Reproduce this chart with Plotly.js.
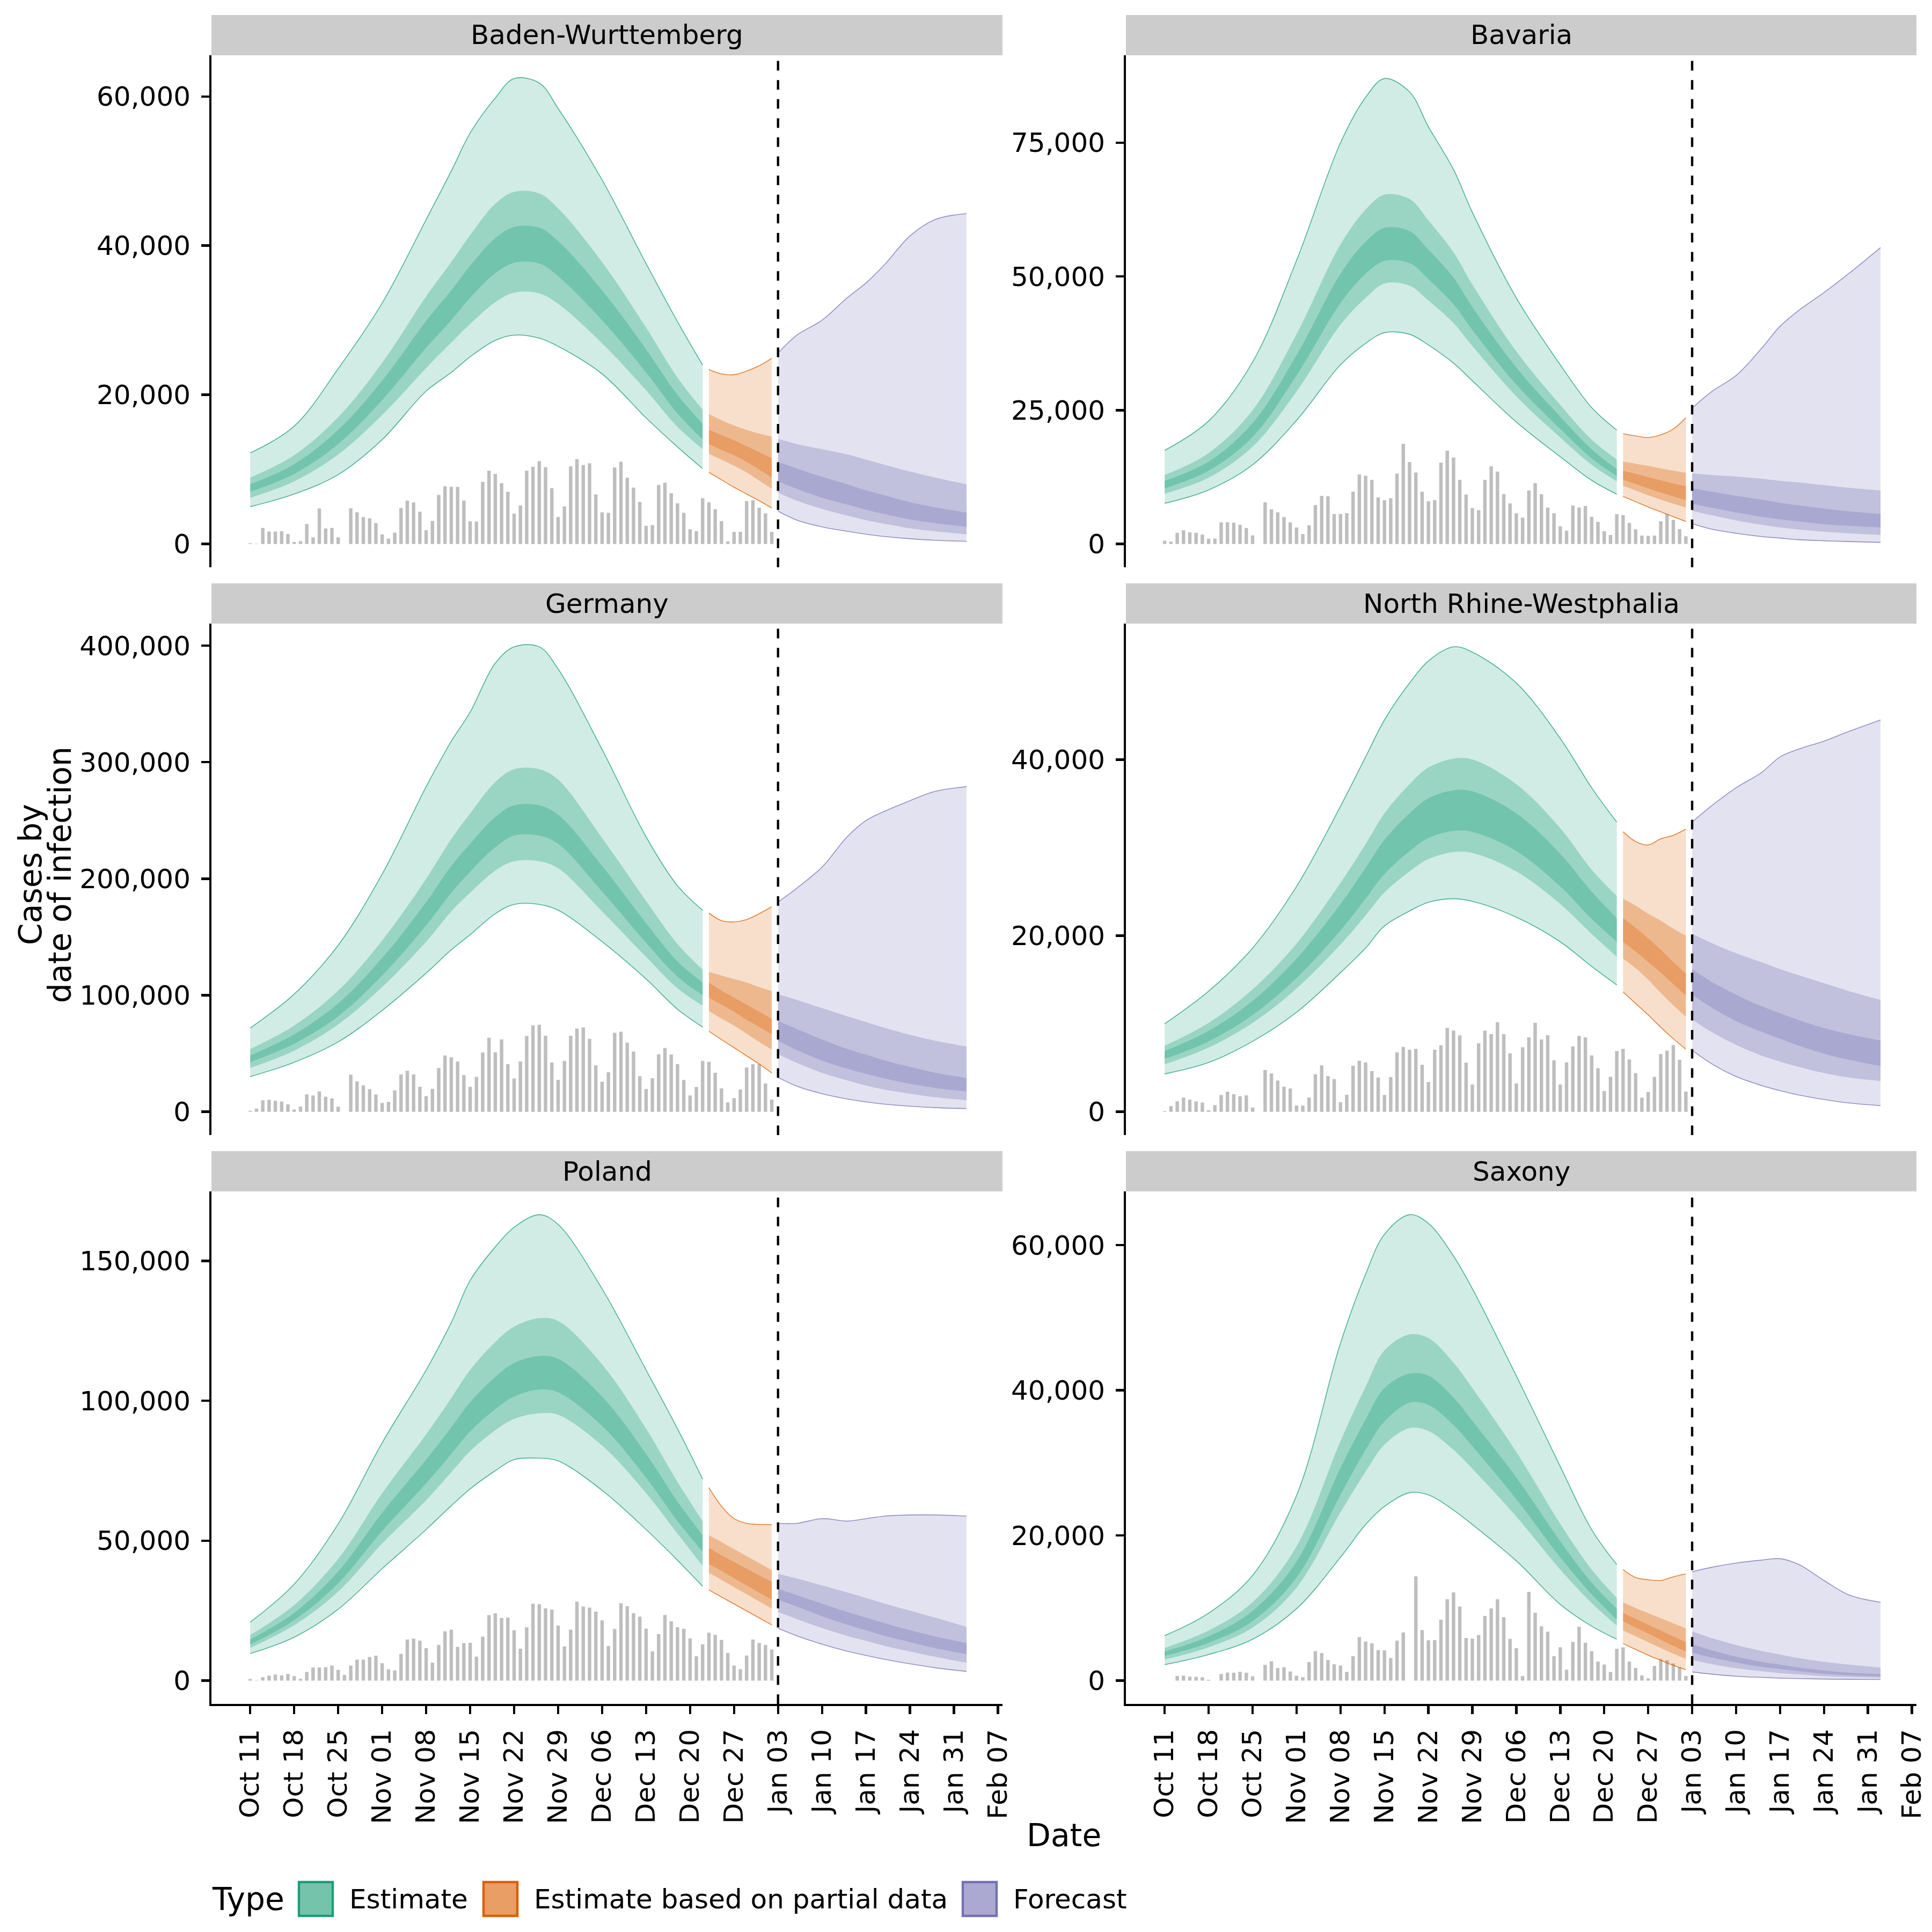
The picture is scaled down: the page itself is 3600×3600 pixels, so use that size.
<!DOCTYPE html>
<html><head><meta charset="utf-8">
<script src="https://cdn.plot.ly/plotly-3.0.1.min.js"></script>
<style>html,body{margin:0;padding:0;background:#fff}</style>
</head><body><div id="chart" style="width:3600px;height:3600px"></div>
<script>
// ---------------- DATA ----------------
const regions = ['Baden-Wurttemberg','Bavaria','Germany','North Rhine-Westphalia','Poland','Saxony'];
const yTickStep = [20000, 25000, 100000, 20000, 50000, 20000];
const typeNames = ['Estimate','Estimate based on partial data','Forecast'];
const barFirstDate = '2020-10-11';
const forecastStart = '2021-01-03';
const estDates = ['2020-10-11','2020-10-18','2020-10-25','2020-11-01','2020-11-08','2020-11-12','2020-11-15','2020-11-19','2020-11-22','2020-11-26','2020-11-29','2020-12-06','2020-12-13','2020-12-18','2020-12-22'];
const partDates = ['2020-12-23','2020-12-25','2020-12-27','2020-12-29','2020-12-31','2021-01-02'];
const fcDates = ['2021-01-03','2021-01-06','2021-01-10','2021-01-14','2021-01-17','2021-01-20','2021-01-24','2021-01-28','2021-02-02'];

// daily reported cases (bars), Oct 11 .. Jan 02
const bw_bars = [100,50,2150,1670,1670,1710,1330,270,390,2680,890,4760,2080,2150,890,0,4780,4250,3600,3450,2800,1280,720,1520,4830,5820,5560,4320,1840,3090,6570,7730,7660,7660,5820,3040,3000,8330,9830,9400,8160,7000,4060,5170,9830,10360,11110,10290,7490,3620,5050,10410,11380,10580,10820,6640,4250,4180,10270,11040,8890,7560,5630,2440,2540,7920,8210,6810,5460,4180,1980,1710,6140,5580,4660,3070,340,1620,1640,5750,5870,4860,4110,1620];
const by_bars = [600,440,2080,2550,2180,2080,1750,970,1010,4030,4060,3990,3590,2990,1610,0,7790,6480,5910,5030,4030,3090,1850,3490,7280,8990,8930,5600,5600,5770,9800,12990,12750,11980,8720,8190,8560,13150,18720,15300,13360,9770,7990,8190,15200,17450,16170,11980,9230,6710,6310,11980,14500,13520,9330,7580,5740,4930,9990,11380,9300,6810,5740,3320,2480,7180,6810,7080,5070,4130,2380,1680,5570,5400,3930,2750,1580,1510,1580,4260,5570,4500,2790,1440];
const de_bars = [930,2780,9880,10340,9410,8800,6480,2010,4480,14970,14040,17440,12960,11570,4320,0,31790,26080,22690,19440,14810,7560,8490,18360,32100,35190,32100,21450,13430,19750,37650,48300,46760,43210,31480,21450,29940,50930,63580,51080,62190,40900,28550,43210,64970,74230,74690,65280,42280,27470,43670,65280,71450,72380,62650,39970,25770,33950,67750,68670,59410,51700,30560,19600,28860,49380,54780,49230,40900,27310,14040,21300,43670,42900,33490,20060,8020,11730,19140,38120,40900,40900,24380,10490];
const nrw_bars = [80,650,1200,1610,1380,1180,1040,180,750,1910,2280,2000,1770,1870,490,0,4750,4360,3560,2850,2650,710,710,1630,4260,5270,4050,3710,1100,1930,5230,5800,5600,4620,3890,1910,3950,6760,7370,7050,7150,5340,3380,7050,7560,9530,9230,8680,5580,3100,7780,9210,8820,10180,8820,6640,3220,7330,8450,10100,8230,8700,5850,3100,5620,7430,8620,8450,6400,4950,2360,3970,6900,7150,5950,4400,1610,2260,3970,6560,6950,7580,5910,2300];
const pl_bars = [580,100,1220,1790,2180,1860,2370,1600,640,3080,4680,4680,4810,5380,3850,2050,5380,7500,7500,8460,8910,6220,4040,3650,9550,14680,15000,14290,11600,6410,12760,17630,18210,12050,13400,13530,8590,15710,23400,24040,22370,22500,18010,11410,19040,27500,27310,25830,25380,19680,12240,18210,28210,26470,26090,24680,21540,12370,18460,27690,26600,24100,22880,18590,10450,16600,23460,21220,19100,18530,15060,8720,12950,17120,16350,14550,9870,5380,4100,8970,14680,13460,12760,11150];
const sn_bars = [0,0,640,690,540,520,470,120,0,910,1110,1090,1210,1090,590,0,2170,2670,1730,1850,1260,670,470,2570,4070,3800,2840,2250,2070,1210,3360,6000,5380,5140,4200,4170,3110,5510,6640,0,14370,6960,5560,5580,8400,11210,12150,10220,5880,5780,6270,8910,9950,11210,8740,5750,4470,620,12220,9360,7480,6740,3360,4590,1510,5330,7410,5210,4050,2620,2220,1190,4400,4590,2620,1750,720,300,2020,2960,2790,2370,1880,640];

// ribbon rows, one per date: [upper90, upper50, upper20, lower20, lower50, lower90]
const bw_est = [[12200,8900,8000,7000,6200,5000],[15800,11900,10700,9400,8400,6700],[23500,17000,15300,13400,12000,9300],[32300,24300,21900,19300,17300,14000],[43500,33200,29900,26300,23600,20500],[50000,37800,34000,30000,27000,23000],[55100,41400,37300,33000,29500,25100],[59800,45600,41000,36300,32400,27300],[62400,47200,42500,37700,33700,28000],[61800,47000,42400,37600,33600,27600],[58400,45000,40600,35900,32200,26500],[48800,37800,34000,30000,26900,22800],[37600,29000,26100,23000,20600,16900],[29800,22300,20000,17500,15700,13000],[24000,18000,16100,14000,12700,10100]];
const bw_part = [[23400,17400,15300,13400,12100,9600],[22800,16600,14600,12600,11300,8600],[22700,15900,13900,11900,10500,7600],[23200,15300,13100,11000,9600,6700],[23900,14800,12300,10000,8500,5800],[24900,14400,11500,8900,7400,4800]];
const bw_fc = [[25600,14100,11000,8400,6900,4400],[28000,13400,10100,7400,5800,3200],[30000,12700,9000,6200,4700,2300],[33000,12000,8000,5300,3800,1700],[35000,11300,7200,4600,3200,1300],[37500,10600,6500,4000,2700,1000],[41300,9700,5600,3300,2100,700],[43500,8900,4900,2800,1700,500],[44300,8000,4200,2300,1300,350]];

const by_est = [[17500,12900,11800,10400,9400,7600],[23000,17000,15400,13700,12400,10100],[34000,25000,22600,20000,18200,14800],[53000,39200,35300,31500,28500,23100],[75000,56000,50500,45000,41000,33500],[83500,62500,56500,50500,46000,37500],[87000,65300,59100,52900,48700,39500],[84500,64500,58500,52500,48300,39200],[78000,60500,55000,49500,45500,37200],[70000,54500,49800,44800,41300,33800],[62000,48500,44300,40000,37000,30500],[46000,36000,33000,29800,27600,22800],[33500,26000,23800,21500,19900,16300],[25500,19500,17700,16000,14800,11900],[21300,15800,14000,12700,11700,9300]];
const by_part = [[20600,15400,13700,12000,10900,8900],[20200,15000,13100,11200,10000,7900],[19900,14600,12500,10400,9100,6900],[20400,14100,11900,9600,8300,6000],[21500,13700,11300,8900,7500,5100],[23600,13300,10800,8200,6800,4200]];
const by_fc = [[25400,13200,10400,7500,6200,3800],[28400,12900,9800,6800,5400,2800],[31500,12600,9000,5900,4400,2000],[36500,12200,8300,5100,3600,1400],[40700,11800,7700,4600,3100,1100],[43700,11500,7200,4200,2700,800],[47000,11000,6600,3700,2300,600],[50600,10500,6100,3400,2000,450],[55400,10000,5600,3100,1700,300]];

const de_est = [[71900,53800,48300,42600,37600,30200],[101000,74000,66500,58500,52500,42500],[143000,104000,93000,82000,75000,60000],[204000,147000,132000,117000,107000,87000],[279000,200000,180000,160000,146000,119000],[318000,234000,211000,188000,172000,139000],[343000,256000,230000,206000,188000,152000],[385000,283000,253000,227000,207000,170000],[399000,294000,263000,237000,215000,178000],[399000,294000,263000,237000,215000,178000],[380000,285000,255000,230000,209000,173000],[311000,235000,211000,189000,172000,146000],[236000,181000,162000,145000,133000,114000],[194000,144000,129000,116000,106000,88000],[173000,122000,111000,100000,91000,72700]];
const de_part = [[170600,120000,111000,98000,86600,69100],[164000,117000,104000,92000,80000,62000],[163000,114000,98000,86000,74000,55000],[165000,111000,92000,79000,67000,48000],[170000,107000,86000,73000,60000,41000],[176000,103600,79600,66500,53400,33300]];
const de_fc = [[180000,101000,78000,61000,49500,29500],[192000,96000,71000,53000,42000,22000],[210000,89000,62000,44000,33500,15500],[236000,82000,54000,37000,27000,11000],[250000,77000,49000,32500,22500,8500],[258000,72000,44000,28500,19000,6500],[267000,66000,38500,24000,15500,4800],[275000,61000,33500,20500,12500,3600],[279000,56000,29000,17500,10000,2700]];

const nrw_est = [[10000,7500,6900,6000,5400,4300],[13700,10100,9200,8000,7300,5600],[18600,13900,12600,11000,10100,8000],[25600,19100,17400,15200,14000,11300],[34700,26000,23600,20600,19000,15800],[40300,30400,27700,24200,22300,18600],[44500,33900,30900,27000,24900,21100],[48700,37200,33900,29600,27300,22800],[51200,39100,35600,31100,28700,23800],[52800,40100,36500,31900,29500,24200],[52200,40000,36400,31800,29400,23900],[48700,37200,33900,29600,27300,22100],[42400,32200,29300,25600,23600,19300],[36800,27500,25000,21900,20200,16500],[32900,24500,22000,19300,17600,14400]];
const nrw_part = [[31800,24200,22000,19300,17400,13600],[30700,23400,20900,18200,16300,12300],[30300,22500,19700,17000,15000,11000],[31000,21700,18400,15800,13500,9600],[31400,20800,17000,14500,12100,8300],[32100,20000,15700,13200,10800,7100]];
const nrw_fc = [[32900,20200,16200,13300,10500,7000],[34700,19200,14800,11900,9100,5500],[36800,18000,13300,10300,7600,4000],[38500,17000,12000,9100,6400,3000],[40300,16200,11200,8300,5700,2400],[41200,15500,10400,7500,5100,1900],[42100,14600,9500,6600,4400,1400],[43200,13700,8800,5900,3900,1000],[44500,12700,8100,5200,3500,700]];

const pl_est = [[20900,16300,14700,12900,11700,9700],[34500,27000,24200,21600,19800,15500],[56000,43500,39000,34800,31800,25500],[85000,67000,60000,53500,49000,40000],[111000,88000,79000,70500,64500,54000],[128000,101000,90500,81000,74500,62500],[143000,111000,99500,89000,82000,68500],[155000,121000,108500,97000,89500,75000],[162000,126500,113500,101500,93500,79000],[166500,129500,116000,104000,95500,79500],[163000,128500,115000,103000,95000,78500],[140000,113000,101500,91000,84000,68000],[111000,90000,81000,72500,67000,54000],[90000,71000,64000,57000,52500,43000],[72000,57000,52000,46000,41000,33700]];
const pl_part = [[69000,52000,47500,41700,38500,32400],[62300,49500,44800,39200,36000,29900],[57900,47000,42400,36600,33400,27400],[56200,44500,40000,34000,30900,24900],[55800,42000,37600,31400,28300,22400],[55800,39500,35300,28900,25700,19900]];
const pl_fc = [[56200,38200,32800,28900,24500,18700],[56200,36500,30500,26500,22000,16000],[57900,34000,27500,23000,18800,13000],[57000,31500,24500,20000,16000,10500],[57900,29500,22500,18000,14200,9000],[58800,27500,20500,16000,12400,7600],[59200,25000,18000,13800,10400,6000],[59200,22500,15800,11600,8500,4600],[58800,19200,13400,9400,6400,3300]];

const sn_est = [[6200,4500,4000,3400,2900,2200],[9300,6900,6100,5200,4600,3600],[14500,10800,9600,8200,7300,5700],[25500,18500,16400,14200,12800,9900],[46500,33000,29300,25600,23200,17000],[56000,40500,36000,31800,28800,21500],[61500,45500,40300,35700,32500,24000],[64200,47700,42300,38300,34800,25900],[63000,47200,42000,38000,34400,25600],[58500,43800,39000,35200,31800,23500],[54000,40300,35800,32300,29200,21500],[42000,31500,28000,25000,22600,16500],[29500,21600,19200,17000,15300,10500],[20800,15300,13500,11900,10700,7500],[16000,11400,9900,8400,7600,5700]];
const sn_part = [[15300,10800,9350,8200,6900,5100],[14200,10000,8500,7300,6100,4300],[13900,9300,7700,6500,5300,3500],[13800,8600,6900,5600,4500,2800],[14300,7900,6100,4800,3700,2100],[14700,7200,5300,4000,3000,1500]];
const sn_fc = [[15000,6800,5000,3850,2860,1200],[15600,5900,4200,3200,2300,900],[16200,4900,3300,2500,1700,600],[16600,4100,2600,1900,1300,450],[16800,3600,2200,1600,1050,350],[16000,3100,1800,1300,850,280],[13800,2600,1400,950,620,220],[11800,2200,1100,750,500,180],[10800,1800,900,600,400,150]];

// ---------------- BUILD ----------------
const W = 3600, H = 3600;
const colX = [[394, 1868], [2098, 3571]];
const rowY = [[103, 1057], [1162, 2115], [2220, 3175]];
const stripH = 75;
const DAY = 864e5;
const px = v => v / W, py = v => 1 - v / H;

const panelData = [
  [bw_bars, bw_est, bw_part, bw_fc],
  [by_bars, by_est, by_part, by_fc],
  [de_bars, de_est, de_part, de_fc],
  [nrw_bars, nrw_est, nrw_part, nrw_fc],
  [pl_bars, pl_est, pl_part, pl_fc],
  [sn_bars, sn_est, sn_part, sn_fc]
];
const typeRGB = ['27,158,119', '217,95,2', '117,112,179'];
const typeKeyFill = ['#74C4AC', '#E89E65', '#ABA8D1'];
const typeDates = [estDates, partDates, fcDates];
const bands = [{lo: 5, hi: 0, a: 0.2, edge: true}, {lo: 4, hi: 1, a: 0.3}, {lo: 3, hi: 2, a: 0.3}];

const t0 = Date.parse(barFirstDate + 'T00:00:00Z');
const isoDay = ms => new Date(ms).toISOString().slice(0, 10);
const barDates = bw_bars.map((_, k) => isoDay(t0 + k * DAY));
const xRange = [t0 - 6.17 * DAY, Date.parse('2021-02-07T00:00:00Z') + 0.72 * DAY];

const traces = [];
const layout = {
  width: W, height: H, margin: {l: 0, r: 0, t: 0, b: 0},
  paper_bgcolor: 'white', plot_bgcolor: 'rgba(0,0,0,0)',
  showlegend: false, barmode: 'overlay',
  font: {family: 'DejaVu Sans', color: 'black'},
  shapes: [], annotations: []
};

panelData.forEach((pd, i) => {
  const [bars, est, part, fc] = pd;
  const s = i === 0 ? '' : String(i + 1);
  const row = Math.floor(i / 2), col = i % 2;
  const [x0, x1] = colX[col];
  const [y0, y1] = rowY[row];
  const xa = 'x' + s, ya = 'y' + s;

  traces.push({type: 'bar', x: barDates, y: bars, xaxis: xa, yaxis: ya,
    width: 0.55 * DAY, marker: {color: '#BEBEBE', line: {width: 0}}, hoverinfo: 'skip'});

  [est, part, fc].forEach((rows, t) => {
    const rgb = typeRGB[t];
    bands.forEach(b => {
      const lw = b.edge ? 1.6 : 0;
      const lc = b.edge ? 'rgba(' + rgb + ',0.75)' : 'rgba(0,0,0,0)';
      traces.push({type: 'scatter', mode: 'lines', x: typeDates[t], y: rows.map(r => r[b.lo]),
        xaxis: xa, yaxis: ya, line: {width: lw, color: lc, shape: 'spline', smoothing: 1},
        hoverinfo: 'skip'});
      traces.push({type: 'scatter', mode: 'lines', x: typeDates[t], y: rows.map(r => r[b.hi]),
        xaxis: xa, yaxis: ya, fill: 'tonexty', fillcolor: 'rgba(' + rgb + ',' + b.a + ')',
        line: {width: lw, color: lc, shape: 'spline', smoothing: 1}, hoverinfo: 'skip'});
    });
  });

  const M = Math.max(...bars, ...est.map(r => r[0]), ...part.map(r => r[0]), ...fc.map(r => r[0]));
  const bottom = row === 2;
  layout['xaxis' + s] = {
    domain: [px(x0), px(x1)], anchor: ya, type: 'date', range: xRange,
    showgrid: false, zeroline: false, fixedrange: true,
    showline: bottom, linecolor: 'black', linewidth: 4.4,
    ticks: bottom ? 'outside' : '', ticklen: 14.6, tickwidth: 4.4, tickcolor: 'black',
    showticklabels: bottom, tickangle: -90, tickformat: '%b %d',
    tick0: barFirstDate, dtick: 7 * DAY, ticklabelstandoff: 8,
    tickfont: {size: 50, color: 'black', family: 'DejaVu Sans'}
  };
  layout['yaxis' + s] = {
    domain: [py(y1), py(y0)], anchor: xa, range: [-0.05 * M, 1.05 * M],
    showgrid: false, zeroline: false, fixedrange: true,
    showline: true, linecolor: 'black', linewidth: 4.4,
    ticks: 'outside', ticklen: 14.6, tickwidth: 4.4, tickcolor: 'black',
    tick0: 0, dtick: yTickStep[i], tickformat: ',d', ticklabelstandoff: 10,
    tickfont: {size: 50, color: 'black', family: 'DejaVu Sans'}
  };

  // strip
  layout.shapes.push({type: 'rect', xref: 'paper', yref: 'paper', x0: px(x0), x1: px(x1),
    y0: py(y0), y1: py(y0 - stripH), fillcolor: '#CCCCCC', line: {width: 0}, layer: 'below'});
  layout.annotations.push({xref: 'paper', yref: 'paper', x: px((x0 + x1) / 2), y: py(y0 - stripH / 2),
    text: regions[i], showarrow: false, xanchor: 'center', yanchor: 'middle',
    font: {size: 50, color: 'black'}});
  // forecast start line
  layout.shapes.push({type: 'line', xref: xa, yref: ya + ' domain', x0: forecastStart, x1: forecastStart,
    y0: 0, y1: 1, line: {color: 'black', width: 4.4, dash: '17.8px,17.8px'}});
});

// axis titles
layout.annotations.push({xref: 'paper', yref: 'paper', x: px((colX[0][0] + colX[1][1]) / 2), y: py(3420),
  text: 'Date', showarrow: false, xanchor: 'center', yanchor: 'middle', font: {size: 58.3, color: 'black'}});
layout.annotations.push({xref: 'paper', yref: 'paper', x: px(57), y: py(1630), text: 'Cases by',
  textangle: -90, showarrow: false, xanchor: 'center', yanchor: 'middle', font: {size: 58.3, color: 'black'}});
layout.annotations.push({xref: 'paper', yref: 'paper', x: px(112), y: py(1630), text: 'date of infection',
  textangle: -90, showarrow: false, xanchor: 'center', yanchor: 'middle', font: {size: 58.3, color: 'black'}});

// legend
const legY = 3539;
layout.annotations.push({xref: 'paper', yref: 'paper', x: px(393), y: py(legY), text: 'Type',
  showarrow: false, xanchor: 'left', yanchor: 'middle', font: {size: 58.3, color: 'black'}});
const keyX = [557, 901, 1794], textX = [649, 993, 1886];
typeNames.forEach((nm, t) => {
  layout.shapes.push({type: 'rect', xref: 'paper', yref: 'paper', x0: px(keyX[t]), x1: px(keyX[t] + 63),
    y0: py(3570), y1: py(3507), fillcolor: typeKeyFill[t], line: {color: 'rgb(' + typeRGB[t] + ')', width: 4.4}});
  layout.annotations.push({xref: 'paper', yref: 'paper', x: px(textX[t]), y: py(legY), text: nm,
    showarrow: false, xanchor: 'left', yanchor: 'middle', font: {size: 50, color: 'black'}});
});

Plotly.newPlot('chart', traces, layout, {staticPlot: true, displayModeBar: false});
</script></body></html>
